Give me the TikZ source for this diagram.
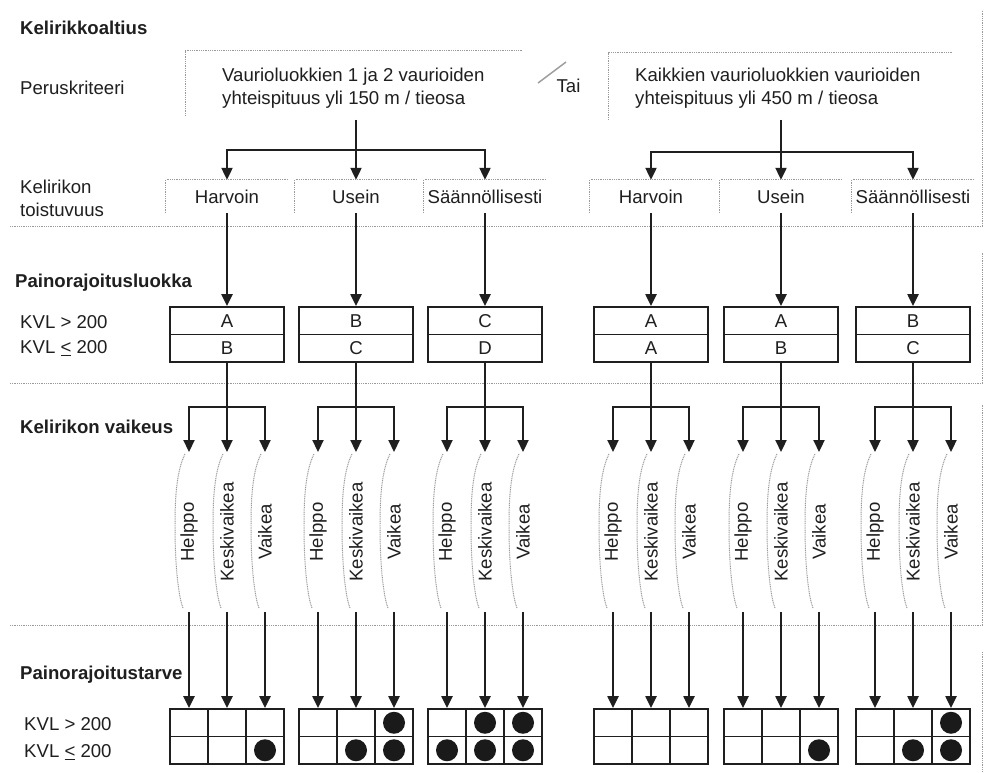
\documentclass[tikz,border=0pt]{standalone}
\usepackage{fontspec}
\setmainfont{Liberation Sans}
\usetikzlibrary{arrows.meta}
\definecolor{ink}{HTML}{1F1F1F}
\definecolor{dotgray}{HTML}{9A9A9A}
\definecolor{dotfill}{HTML}{1A1A1A}
\begin{document}
\begin{tikzpicture}[x=1pt,y=-1pt,
  txt/.style={inner sep=0pt, text=ink, font=\fontsize{18.6}{23}\selectfont},
  head/.style={inner sep=0pt, text=ink, font=\fontsize{18.6}{23}\selectfont\bfseries, anchor=west},
  lab/.style={txt, anchor=west},
  wire/.style={draw=ink, line width=2.2pt},
  arr/.style={wire, -{Triangle[width=11pt,length=12pt]}},
  cell/.style={txt, draw=ink, line width=1.8pt, minimum width=114pt, minimum height=27.5pt},
  gcell/.style={draw=ink, line width=1.8pt, minimum width=38pt, minimum height=27.5pt, inner sep=0pt},
  fbox/.style={txt, minimum width=122pt, minimum height=33pt},
  faint/.style={draw=dotgray, line width=1pt, dash pattern=on 1pt off 0.8pt},
  dotmark/.style={fill=dotfill}]

\fill[white] (0,0) rectangle (987,773);
\useasboundingbox (0,0) rectangle (987,773);

% section frames
\draw[faint] (10,226) -- (982,226) -- (982,10);
\draw[faint] (10,383) -- (982,383) -- (982,253);
\draw[faint] (10,625) -- (982,625) -- (982,405);
\draw[faint] (982,652) -- (982,773);

% left labels
\node[head] (h1) at (20,28) {Kelirikkoaltius};
\node[lab] (h1a) at (20,88) {Peruskriteeri};
\node[lab, align=left] (h1b) at (20,198.5) {Kelirikon\\toistuvuus};
\node[head] (h2) at (15,283) {Painorajoitusluokka};
\node[lab] (kv1) at (20,322) {KVL > 200};
\node[lab] (kv2) at (20,348) {KVL \underline{<} 200};
\node[head] (h3) at (20,427) {Kelirikon vaikeus};
\node[head] (h4) at (20,675) {Painorajoitustarve};
\node[lab] (kv3) at (24,724) {KVL > 200};
\node[lab] (kv4) at (24,752) {KVL \underline{<} 200};

% criteria
\node[lab, align=left] (c1) at (222,88.5) {Vaurioluokkien 1 ja 2 vaurioiden\\yhteispituus yli 150 m / tieosa};
\draw[faint] (185,116) |- (523,51);
\node[lab, align=left] (c2) at (635,88.5) {Kaikkien vaurioluokkien vaurioiden\\yhteispituus yli 450 m / tieosa};
\draw[faint] (608,120) |- (952,53);
\node[txt] (tai) at (568.5,86) {Tai};
\draw[draw=gray!75, line width=1.5pt] (538,83) -- (566,62);

\coordinate (s1) at (356,120); \coordinate (j1) at (356,150);
\coordinate (s2) at (781,120); \coordinate (j2) at (781,152);

% groups
\foreach \g/\x/\fr/\ta/\tb in {1/227/Harvoin/A/B, 2/356/Usein/B/C, 3/485/Säännöllisesti/C/D, 4/651/Harvoin/A/A, 5/781/Usein/A/B, 6/913/Säännöllisesti/B/C} {
  \node[fbox] (f\g) at (\x,196.5) {\fr};
  \draw[faint] (f\g.south west) -- (f\g.north west) -- (f\g.north east);
  \node[cell] (kt\g) at (\x,320.75) {\ta};
  \node[cell] (kb\g) at (\x,348.25) {\tb};
  \draw[arr] (f\g.south) -- (kt\g.north);
  \coordinate (q\g) at (\x,407);
  \draw[wire] (kb\g.south) -- (q\g);
  \foreach \c/\lbl in {1/Helppo,2/Keskivaikea,3/Vaikea} {
    \pgfmathsetmacro\xc{\x-57+19+38*(\c-1)}
    \coordinate (t\g\c) at (\xc,452);
    \coordinate (u\g\c) at (\xc,612);
    \draw[arr] (q\g) -| (t\g\c);
    \draw[faint] ({\xc-4},454) .. controls ({\xc-12},470) and ({\xc-14},495) .. ({\xc-14},525)
                  .. controls ({\xc-14},570) and ({\xc-10},598) .. ({\xc-6},608);
    \node[txt, rotate=90] (d\g\c) at (\xc,532) {\lbl};
    \node[gcell] (g\g-1-\c) at (\xc,722.75) {};
    \node[gcell] (g\g-2-\c) at (\xc,750.25) {};
    \draw[arr] (u\g\c) -- (g\g-1-\c.north);
  }
}

% criteria connectors
\draw[wire] (s1) -- (j1);
\draw[arr] (j1) -| (f1.north);
\draw[arr] (j1) -- (f2.north);
\draw[arr] (j1) -| (f3.north);
\draw[wire] (s2) -- (j2);
\draw[arr] (j2) -| (f4.north);
\draw[arr] (j2) -- (f5.north);
\draw[arr] (j2) -| (f6.north);

% need marks
\foreach \n in {g1-2-3, g2-1-3, g2-2-2, g2-2-3, g3-1-2, g3-1-3, g3-2-1, g3-2-2, g3-2-3, g5-2-3, g6-1-3, g6-2-2, g6-2-3}
  \fill[dotmark] (\n.center) circle (11pt);
\end{tikzpicture}
\end{document}
